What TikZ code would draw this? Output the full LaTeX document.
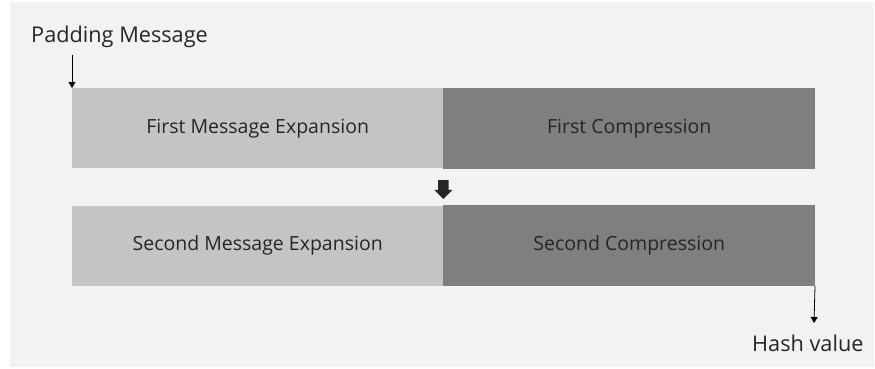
\documentclass[tikz,border=0pt]{standalone}
\usepackage{fontspec}
\setmainfont{Open Sans}
\usetikzlibrary{positioning,calc,arrows.meta,shapes.arrows}
\definecolor{bggray}{HTML}{F2F2F2}
\definecolor{lightbar}{HTML}{C4C4C4}
\definecolor{darkbar}{HTML}{7F7F7F}
\definecolor{inkgray}{HTML}{262626}

\begin{document}
\begin{tikzpicture}[x=1pt, y=-1pt,
    stage/.style={rectangle, minimum width=371pt, minimum height=80pt, inner sep=0pt, text=inkgray, font=\fontsize{19.5}{23}\selectfont},
    expand/.style={stage, fill=lightbar},
    compress/.style={stage, fill=darkbar, draw=darkbar, line width=0.6pt},
    label/.style={inner sep=0pt, text=inkgray, font=\fontsize{21.7}{26}\selectfont},
    flow/.style={-{Triangle[length=6pt, width=7pt]}, line width=0.8pt, draw=black}]
            \useasboundingbox (0,0) rectangle (875,369);
            \fill[bggray] (10,2) rectangle (874,367);

            \node[expand, anchor=north west]   (E1) at (72,88) {First Message Expansion};
            \node[compress, right=0pt of E1]   (C1) {First Compression};
            \node[expand, below=37pt of E1]    (E2) {Second Message Expansion};
            \node[compress, right=0pt of E2]   (C2) {Second Compression};

            \node[label, anchor=base west] (pad)  at (31,43)  {Padding Message};
            \node[label, anchor=base west] (hash) at (752,351) {Hash value};

            \coordinate (padtop)  at (72,55);
            \coordinate (hashend) at (814,323);

            \node[single arrow, fill=inkgray, rotate=-90, inner sep=5pt, minimum height=19pt,
                  single arrow head extend=4pt, single arrow head indent=0pt] (next)
                  at ($(E1.south east)!0.5!(E2.north east)$) {};

            \draw[flow] (padtop) -- (E1.north west);
            \draw[flow] (C2.south east) -- (hashend);
        \end{tikzpicture}
\end{document}
